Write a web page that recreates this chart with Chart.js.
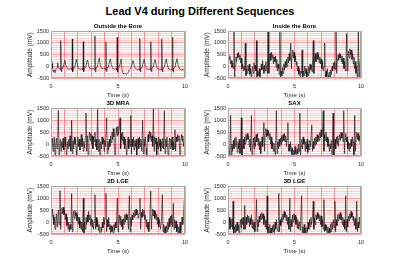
<!DOCTYPE html>
<html>
<head>
<meta charset="utf-8">
<script src="https://cdn.jsdelivr.net/npm/chart.js@4/dist/chart.umd.min.js"></script>
<style>
    body { margin: 0; width: 400px; height: 267px; background: #fff; position: relative; overflow: hidden; font-family: "Liberation Sans", Arial, sans-serif; }
    #title { position: absolute; left: 0; top: 5px; width: 400px; text-align: center; font-weight: bold; font-size: 11px; line-height: 13px; color: #000; }
    .sub { position: absolute; font-weight: bold; font-size: 6px; line-height: 7px; text-align: center; color: #000; z-index: 2; }
    canvas { position: absolute; z-index: 1; }
</style>
</head>
<body>
<div id="title">Lead V4 during Different Sequences</div>
<script>
// tick labels
const xTickLabels = [0, 5, 10];
const yTickLabels = [1500, 1000, 500, 0, -500];
const panelTitles = ["Outside the Bore", "Inside the Bore", "3D MRA", "SAX", "2D LGE", "3D LGE"];

// [time (s), amplitude (mV)]
const outsideBore = [[0,380],[0.04,300],[0.08,120],[0.12,-80],[0.18,-250],[0.25,-150],[0.3,-280],[0.38,-100],[0.45,-50],[0.5,150],[0.55,-50],[0.6,-120],[0.68,-100],[0.71,-150],
[0.74,1100],[0.77,-220],[0.81,-60],[0.9,-80],[0.98,150],[1.03,260],[1.1,60],[1.2,-80],[1.35,-120],[1.5,-100],[1.56,-150],
[1.59,1170],[1.62,-230],[1.66,-70],[1.75,-80],[1.83,120],[1.9,300],[1.97,80],[2.05,-100],[2.2,-130],[2.33,-100],[2.38,-150],
[2.41,1060],[2.44,-230],[2.48,-70],[2.58,-60],[2.66,150],[2.73,270],[2.8,60],[2.9,-90],[3.05,-120],[3.2,-100],[3.25,-150],
[3.28,1300],[3.31,-240],[3.35,-60],[3.45,-40],[3.53,200],[3.6,360],[3.67,100],[3.75,-80],[3.9,-100],[4.02,-80],[4.07,-150],
[4.1,1030],[4.13,-220],[4.17,-60],[4.27,-50],[4.35,160],[4.42,320],[4.5,80],[4.6,-90],[4.75,-120],[4.88,-100],[4.91,-160],
[4.94,1240],[4.97,-250],[5.01,-80],[5.1,-50],[5.18,180],[5.24,320],[5.3,-150],[5.38,-320],[5.5,-300],[5.62,-340],[5.75,-280],[5.85,-150],[5.95,-100],[6.05,100],[6.12,250],[6.2,50],[6.3,-100],[6.45,-130],[6.56,-120],[6.6,-160],
[6.63,1200],[6.66,-240],[6.7,-70],[6.8,-60],[6.88,150],[6.95,300],[7.02,80],[7.12,-100],[7.25,-130],[7.38,-110],[7.42,-160],
[7.45,1060],[7.48,-230],[7.52,-70],[7.62,-50],[7.7,160],[7.77,290],[7.85,70],[7.95,-100],[8.1,-140],[8.22,-120],[8.25,-170],
[8.28,1170],[8.31,-240],[8.35,-80],[8.45,-50],[8.53,170],[8.6,320],[8.68,60],[8.78,-110],[8.9,-140],[9.02,-120],[9.05,-170],
[9.08,1240],[9.11,-250],[9.15,-80],[9.25,-50],[9.33,200],[9.4,330],[9.48,60],[9.6,-120],[9.75,-150],[9.9,-140],[10,-160]];

const insideBore = [[0,480],[0.06,520],[0.1,300],[0.15,420],[0.2,100],[0.25,250],[0.3,-50],[0.35,150],[0.4,-100],[0.45,1600],[0.5,-500],[0.55,50],[0.6,400],[0.65,200],[0.7,550],[0.75,380],[0.8,600],[0.85,300],[0.9,480],[0.95,150],[1.0,350],[1.05,-100],[1.1,100],[1.15,-200],[1.2,0],[1.25,-150],[1.3,1000],[1.35,-400],[1.4,-100],[1.45,-300],[1.5,50],[1.55,-200],[1.6,100],[1.65,-350],[1.7,-100],[1.75,-450],[1.8,-200],[1.85,0],[1.9,-300],[1.95,150],[2.0,-100],[2.05,50],[2.1,-200],[2.14,1100],[2.18,-550],[2.25,-200],[2.3,-400],[2.35,-100],[2.4,-500],[2.45,-250],[2.5,100],[2.55,-150],[2.6,250],[2.65,0],[2.7,-300],[2.75,50],[2.8,-200],[2.85,200],[2.9,-100],[2.96,-300],[3.02,1600],[3.07,-300],[3.12,300],[3.17,550],[3.22,250],[3.27,600],[3.32,350],[3.37,500],[3.42,100],[3.47,400],[3.52,200],[3.57,450],[3.62,-50],[3.67,300],[3.72,-200],[3.77,100],[3.82,-100],[3.86,-350],[3.9,1600],[3.95,-500],[4.0,-200],[4.05,-400],[4.1,-50],[4.15,-300],[4.2,100],[4.25,-150],[4.3,200],[4.35,-50],[4.4,300],[4.45,0],[4.5,400],[4.55,150],[4.6,550],[4.65,250],[4.72,1000],[4.77,-100],[4.82,450],[4.87,700],[4.92,350],[4.97,600],[5.02,200],[5.07,450],[5.12,50],[5.17,200],[5.22,-200],[5.27,0],[5.32,-350],[5.37,-100],[5.42,-450],[5.47,-200],[5.52,-300],[5.57,700],[5.62,-500],[5.67,-200],[5.72,-400],[5.77,0],[5.82,-300],[5.87,-100],[5.92,-500],[5.97,-250],[6.02,-400],[6.07,0],[6.12,-300],[6.17,100],[6.22,-150],[6.27,50],[6.33,-250],[6.41,1100],[6.46,-300],[6.51,300],[6.56,550],[6.61,200],[6.66,450],[6.71,600],[6.76,300],[6.81,500],[6.86,150],[6.91,400],[6.96,100],[7.01,300],[7.06,-100],[7.11,200],[7.16,-200],[7.22,0],[7.27,1000],[7.32,-500],[7.37,-200],[7.42,-450],[7.47,-100],[7.52,-400],[7.57,-550],[7.62,-250],[7.67,-450],[7.72,-150],[7.77,-350],[7.82,0],[7.87,-200],[7.92,150],[7.97,-100],[8.02,200],[8.07,-150],[8.12,1600],[8.17,-300],[8.22,300],[8.27,500],[8.32,250],[8.37,550],[8.42,350],[8.47,500],[8.52,200],[8.57,450],[8.62,100],[8.67,350],[8.72,-100],[8.77,200],[8.82,-200],[8.87,50],[8.92,1400],[8.97,-200],[9.02,400],[9.07,650],[9.12,350],[9.17,750],[9.22,500],[9.27,700],[9.32,300],[9.37,550],[9.42,100],[9.47,400],[9.52,-100],[9.57,200],[9.62,-300],[9.67,0],[9.72,-500],[9.76,-200],[9.8,1600],[9.85,-500],[9.9,100],[9.95,300],[10,400]];

const mra3d = [[0,200],[0.05,-100],[0.1,250],[0.15,-300],[0.2,100],[0.25,300],[0.3,-600],[0.35,0],[0.4,250],[0.45,-200],[0.5,150],[0.55,1400],[0.6,-600],[0.65,-100],[0.7,200],[0.75,-300],[0.8,100],[0.85,-150],[0.9,250],[0.95,-250],[1.0,50],[1.05,300],[1.1,-100],[1.17,-600],[1.22,100],[1.27,-200],[1.32,200],[1.37,-100],[1.42,350],[1.48,-300],[1.54,1000],[1.59,-400],[1.64,150],[1.69,-200],[1.74,300],[1.79,0],[1.84,200],[1.91,-600],[1.96,0],[2.01,300],[2.06,-100],[2.11,200],[2.16,-250],[2.21,100],[2.26,400],[2.31,-100],[2.36,250],[2.41,-300],[2.46,100],[2.51,-150],[2.56,300],[2.61,1300],[2.66,-300],[2.71,350],[2.78,-600],[2.83,200],[2.88,500],[2.93,150],[2.98,450],[3.03,0],[3.08,350],[3.13,-200],[3.18,300],[3.23,100],[3.28,500],[3.33,-100],[3.38,200],[3.43,-250],[3.48,1450],[3.53,-300],[3.58,200],[3.66,-600],[3.71,100],[3.76,-200],[3.81,300],[3.86,0],[3.91,250],[3.96,-300],[4.01,150],[4.06,-100],[4.15,1100],[4.2,-400],[4.25,100],[4.3,-250],[4.35,200],[4.4,-100],[4.45,350],[4.5,50],[4.55,500],[4.6,200],[4.65,650],[4.7,300],[4.78,-600],[4.83,300],[4.88,700],[4.93,350],[4.98,750],[5.03,400],[5.08,600],[5.15,1100],[5.2,-200],[5.25,450],[5.3,150],[5.35,500],[5.4,0],[5.45,300],[5.5,-200],[5.57,200],[5.65,-600],[5.7,0],[5.75,300],[5.8,-200],[5.85,200],[5.9,-100],[5.95,1200],[6.0,-400],[6.05,200],[6.1,-100],[6.15,300],[6.2,-250],[6.25,150],[6.3,-100],[6.35,200],[6.4,-600],[6.45,0],[6.5,250],[6.55,-200],[6.6,300],[6.65,-100],[6.7,200],[6.77,-300],[6.84,1000],[6.89,-400],[6.94,200],[6.99,-100],[7.04,300],[7.09,-200],[7.14,-600],[7.19,100],[7.24,400],[7.29,100],[7.34,550],[7.39,250],[7.44,500],[7.49,100],[7.54,350],[7.59,-100],[7.64,1500],[7.69,-300],[7.74,300],[7.79,0],[7.84,250],[7.89,-600],[7.94,100],[7.99,-200],[8.04,300],[8.09,-100],[8.14,200],[8.19,-300],[8.24,100],[8.29,-150],[8.34,250],[8.4,-200],[8.46,1400],[8.51,-400],[8.56,200],[8.61,-100],[8.66,300],[8.75,-600],[8.8,0],[8.85,250],[8.9,-200],[8.95,200],[9.0,-100],[9.05,300],[9.1,-250],[9.15,100],[9.2,-200],[9.25,600],[9.3,-300],[9.35,300],[9.4,100],[9.45,400],[9.5,150],[9.55,350],[9.63,-600],[9.68,100],[9.73,400],[9.78,150],[9.83,350],[9.88,-100],[9.93,200],[10,100]];

const sax = [[0,-400],[0.05,-100],[0.1,-450],[0.15,100],[0.2,1200],[0.25,-500],[0.3,0],[0.35,-300],[0.4,150],[0.45,-200],[0.5,250],[0.55,-100],[0.6,300],[0.65,0],[0.7,-350],[0.75,100],[0.8,-200],[0.85,200],[0.9,-400],[0.95,-100],[1.0,1100],[1.05,-500],[1.1,-100],[1.15,200],[1.2,-200],[1.25,300],[1.3,0],[1.35,400],[1.4,150],[1.45,450],[1.5,200],[1.55,350],[1.6,-100],[1.65,200],[1.7,-300],[1.76,1200],[1.81,-500],[1.86,-100],[1.91,250],[1.96,-200],[2.01,300],[2.06,-100],[2.11,400],[2.16,100],[2.21,450],[2.26,-50],[2.31,250],[2.36,-250],[2.41,100],[2.46,-400],[2.51,0],[2.56,300],[2.61,-100],[2.7,900],[2.75,-300],[2.8,400],[2.85,650],[2.9,300],[2.95,600],[3.0,350],[3.05,550],[3.1,200],[3.15,450],[3.2,0],[3.25,300],[3.3,-200],[3.35,100],[3.4,-300],[3.45,50],[3.5,-250],[3.57,-450],[3.64,1400],[3.69,-400],[3.74,100],[3.79,-200],[3.84,200],[3.89,-100],[3.94,250],[3.99,0],[4.04,350],[4.09,100],[4.14,400],[4.19,150],[4.24,450],[4.29,100],[4.34,350],[4.39,-100],[4.44,200],[4.5,900],[4.55,-300],[4.6,0],[4.65,-300],[4.7,100],[4.75,-200],[4.8,-450],[4.85,-150],[4.9,-500],[4.95,-250],[5.0,-450],[5.05,-100],[5.1,-400],[5.15,-550],[5.2,-200],[5.25,-400],[5.3,0],[5.35,-300],[5.4,1300],[5.45,-500],[5.5,-100],[5.55,200],[5.6,-200],[5.65,300],[5.7,0],[5.75,200],[5.8,-300],[5.85,100],[5.9,-200],[5.95,200],[6.0,-350],[6.05,0],[6.1,-250],[6.15,150],[6.2,-100],[6.3,800],[6.35,-300],[6.4,100],[6.45,-200],[6.5,250],[6.55,-50],[6.6,300],[6.65,0],[6.7,400],[6.75,100],[6.8,350],[6.85,150],[6.9,500],[6.95,250],[7.0,600],[7.05,300],[7.1,500],[7.16,1400],[7.21,-300],[7.26,400],[7.31,150],[7.36,500],[7.41,100],[7.46,300],[7.51,-100],[7.56,200],[7.61,-300],[7.66,0],[7.71,-200],[7.76,150],[7.83,-450],[7.9,1300],[7.95,-500],[8.0,-100],[8.05,200],[8.1,-200],[8.15,300],[8.2,0],[8.25,350],[8.3,-100],[8.35,250],[8.4,400],[8.45,150],[8.5,500],[8.55,250],[8.6,450],[8.65,100],[8.7,1400],[8.75,-400],[8.8,200],[8.85,450],[8.9,100],[8.95,300],[9.0,-200],[9.05,100],[9.1,-300],[9.15,50],[9.2,-200],[9.25,200],[9.3,-100],[9.35,300],[9.4,100],[9.47,-500],[9.53,1200],[9.58,-300],[9.63,300],[9.68,500],[9.73,200],[9.78,450],[9.83,150],[9.88,350],[9.93,0],[10,100]];

const lge2d = [[0,450],[0.05,200],[0.1,550],[0.15,300],[0.2,-100],[0.25,200],[0.3,-300],[0.35,100],[0.4,350],[0.45,-200],[0.5,200],[0.55,500],[0.6,-100],[0.67,1320],[0.72,-300],[0.77,400],[0.82,600],[0.87,350],[0.92,620],[0.97,300],[1.02,500],[1.07,100],[1.12,350],[1.17,-150],[1.22,200],[1.27,-300],[1.32,0],[1.37,-400],[1.42,-100],[1.48,-300],[1.54,1200],[1.59,-400],[1.64,200],[1.69,450],[1.74,150],[1.79,500],[1.84,250],[1.89,400],[1.94,50],[1.99,300],[2.04,-100],[2.09,200],[2.14,-250],[2.19,50],[2.24,-300],[2.29,0],[2.35,-400],[2.41,1000],[2.46,-500],[2.51,0],[2.56,-300],[2.61,200],[2.66,-100],[2.71,300],[2.76,0],[2.81,450],[2.86,100],[2.91,300],[2.96,-150],[3.01,150],[3.06,-200],[3.11,100],[3.16,-300],[3.22,0],[3.28,1150],[3.33,-300],[3.38,200],[3.43,-200],[3.48,100],[3.53,-350],[3.58,-100],[3.63,-450],[3.68,-550],[3.73,-200],[3.78,-400],[3.83,0],[3.88,-250],[3.93,200],[3.98,-100],[4.04,150],[4.1,1200],[4.15,-400],[4.2,100],[4.25,-200],[4.3,200],[4.35,-300],[4.4,-100],[4.45,-450],[4.5,-150],[4.55,-400],[4.6,-200],[4.65,-500],[4.7,-100],[4.75,-350],[4.8,0],[4.85,-250],[4.9,100],[4.95,1000],[5.0,-400],[5.05,0],[5.1,300],[5.15,-100],[5.2,250],[5.25,-200],[5.3,100],[5.35,-300],[5.4,150],[5.45,-100],[5.5,300],[5.55,0],[5.6,350],[5.65,100],[5.7,300],[5.78,-300],[5.85,1100],[5.9,-400],[5.95,200],[6.0,-150],[6.05,300],[6.1,100],[6.15,400],[6.2,200],[6.25,500],[6.3,250],[6.35,550],[6.4,300],[6.45,500],[6.5,150],[6.57,350],[6.64,1000],[6.69,-300],[6.74,400],[6.79,200],[6.84,550],[6.89,250],[6.94,500],[6.99,100],[7.04,300],[7.09,-200],[7.14,100],[7.19,-300],[7.24,0],[7.3,-400],[7.37,100],[7.44,1300],[7.49,-300],[7.54,300],[7.59,550],[7.64,250],[7.69,500],[7.74,150],[7.79,450],[7.84,100],[7.89,350],[7.94,-100],[7.99,200],[8.04,-200],[8.1,100],[8.16,-300],[8.24,0],[8.31,1150],[8.36,-400],[8.41,-100],[8.46,-500],[8.51,-200],[8.56,-550],[8.61,-150],[8.66,-400],[8.71,0],[8.76,-300],[8.81,150],[8.86,-200],[8.91,250],[8.96,-100],[9.01,300],[9.07,-200],[9.13,800],[9.18,-300],[9.23,100],[9.28,-250],[9.33,50],[9.38,-400],[9.43,-100],[9.48,-550],[9.53,-200],[9.58,-450],[9.63,0],[9.68,-500],[9.73,-150],[9.78,200],[9.83,-100],[9.89,300],[9.95,900],[10,200]];

const lge3d = [[0,300],[0.05,-100],[0.1,200],[0.15,-300],[0.2,100],[0.25,-200],[0.3,150],[0.34,-300],[0.38,880],[0.43,-500],[0.48,-200],[0.53,-450],[0.58,-100],[0.63,-400],[0.68,0],[0.73,-350],[0.78,-100],[0.83,-500],[0.88,-200],[0.93,100],[0.98,-250],[1.03,150],[1.08,-100],[1.13,200],[1.2,-300],[1.26,700],[1.31,-300],[1.36,200],[1.41,-100],[1.46,300],[1.51,0],[1.56,250],[1.61,-200],[1.66,150],[1.71,-100],[1.76,300],[1.81,-250],[1.86,100],[1.91,-300],[1.96,0],[2.02,-400],[2.08,-100],[2.14,950],[2.19,-400],[2.24,100],[2.29,-200],[2.34,250],[2.39,0],[2.44,350],[2.49,100],[2.54,400],[2.59,150],[2.64,350],[2.69,-100],[2.74,250],[2.79,-200],[2.84,100],[2.89,-300],[2.94,1100],[2.99,-500],[3.04,-200],[3.09,-450],[3.14,-100],[3.19,-500],[3.24,-250],[3.29,-550],[3.34,-150],[3.39,-400],[3.44,-100],[3.49,-450],[3.54,0],[3.59,-300],[3.64,100],[3.69,-200],[3.76,-400],[3.82,1200],[3.87,-400],[3.92,100],[3.97,-150],[4.02,200],[4.07,0],[4.12,350],[4.17,100],[4.22,450],[4.27,200],[4.32,400],[4.37,50],[4.42,300],[4.47,-100],[4.52,200],[4.58,-300],[4.65,1000],[4.7,-400],[4.75,100],[4.8,-200],[4.85,300],[4.9,0],[4.95,350],[5.0,100],[5.05,300],[5.1,-100],[5.15,200],[5.2,-250],[5.25,100],[5.3,-300],[5.36,0],[5.44,-350],[5.53,1100],[5.58,-500],[5.63,-200],[5.68,-450],[5.73,-100],[5.78,-500],[5.83,-250],[5.88,-550],[5.93,-200],[5.98,-400],[6.03,0],[6.08,-300],[6.13,100],[6.18,-200],[6.23,200],[6.28,-100],[6.34,100],[6.41,880],[6.46,-300],[6.51,150],[6.56,-100],[6.61,300],[6.66,100],[6.71,400],[6.76,150],[6.81,350],[6.86,50],[6.91,300],[6.96,-100],[7.01,250],[7.06,-200],[7.11,100],[7.16,-300],[7.21,950],[7.26,-400],[7.31,-100],[7.36,-350],[7.41,-150],[7.46,-500],[7.51,-200],[7.56,-550],[7.61,-250],[7.66,-450],[7.71,-100],[7.76,-400],[7.81,0],[7.86,-300],[7.92,100],[7.98,-250],[8.04,880],[8.09,-400],[8.14,100],[8.19,-150],[8.24,300],[8.29,50],[8.34,350],[8.39,150],[8.44,400],[8.49,100],[8.54,300],[8.59,-100],[8.64,200],[8.69,-200],[8.74,100],[8.79,-300],[8.85,1100],[8.9,-400],[8.95,100],[9.0,-200],[9.05,250],[9.1,50],[9.15,350],[9.2,150],[9.25,450],[9.3,200],[9.35,400],[9.4,50],[9.45,250],[9.5,-150],[9.55,150],[9.62,-300],[9.68,880],[9.73,-400],[9.78,0],[9.83,-250],[9.88,200],[9.93,-100],[10,300]];

const series = [outsideBore, insideBore, mra3d, sax, lge2d, lge3d];

// plot-area boxes (left, top, width, height) and title centre y
const boxes = [
    { l: 51, t: 30, w: 134, h: 48, ty: 26 },
    { l: 228, t: 30, w: 133, h: 48, ty: 26 },
    { l: 51, t: 107, w: 134, h: 49, ty: 103 },
    { l: 228, t: 107, w: 133, h: 49, ty: 103 },
    { l: 51, t: 185, w: 134, h: 49, ty: 181.5 },
    { l: 228, t: 185, w: 133, h: 49, ty: 181.5 },
];

const FONT = "'Liberation Sans', Arial, sans-serif";
const AXIS_W = 27, AXIS_H = 22, PAD_T = 4, PAD_R = 10;

const frame = {
    id: "frame",
    afterDatasetsDraw(chart) {
        const { ctx, chartArea: a } = chart;
        ctx.save();
        ctx.strokeStyle = "#a6a6a6";
        ctx.lineWidth = 1;
        ctx.strokeRect(Math.round(a.left) + 0.5, Math.round(a.top) + 0.5, Math.round(a.width) - 1, Math.round(a.height) - 1);
        ctx.restore();
    },
};

const near = (v, step) => Math.abs(v / step - Math.round(v / step)) < 1e-6;

series.forEach((pts, i) => {
    const b = boxes[i];

    const cv = document.createElement("canvas");
    cv.width = b.w + AXIS_W + PAD_R;
    cv.height = b.h + PAD_T + AXIS_H;
    cv.style.left = (b.l - AXIS_W) + "px";
    cv.style.top = (b.t - PAD_T) + "px";
    document.body.appendChild(cv);

    const title = document.createElement("div");
    title.className = "sub";
    title.textContent = panelTitles[i];
    title.style.left = b.l + "px";
    title.style.width = b.w + "px";
    title.style.top = (b.ty - 3.5) + "px";
    document.body.appendChild(title);

    new Chart(cv, {
        type: "line",

        data: {
            datasets: [
                {
                    data: pts.map(([x, y]) => ({ x, y })),
                    borderColor: "#111",
                    borderWidth: 0.65,
                    pointRadius: 0,
                    tension: 0,
                },
            ],
        },

        options: {
            responsive: false,
            animation: false,
            devicePixelRatio: 1,
            layout: { padding: { top: PAD_T, right: PAD_R, left: 0, bottom: 0 } },
            plugins: { legend: { display: false }, tooltip: { enabled: false } },

            scales: {
                x: {
                    type: "linear",
                    min: 0,
                    max: 10,
                    afterFit: (s) => { s.height = AXIS_H; },
                    border: { display: false },
                    grid: {
                        drawTicks: false,
                        lineWidth: 1,
                        color: (c) => near(c.tick.value, 1) ? "rgba(240,60,60,0.55)" : "rgba(255,120,120,0.12)",
                    },
                    ticks: {
                        stepSize: 0.2,
                        autoSkip: false,
                        maxRotation: 0,
                        padding: 5,
                        color: "#262626",
                        font: { family: FONT, size: 5.5 },
                        callback: (v) => xTickLabels.some((t) => Math.abs(t - v) < 1e-6) ? Math.round(v) : "",
                    },
                    title: {
                        display: true,
                        text: "Time (s)",
                        color: "#262626",
                        padding: { top: 0, bottom: 1 },
                        font: { family: FONT, size: 6 },
                    },
                },

                y: {
                    min: -500,
                    max: 1500,
                    afterFit: (s) => { s.width = AXIS_W; },
                    border: { display: false },
                    grid: {
                        drawTicks: false,
                        lineWidth: 1,
                        color: (c) => near(c.tick.value, 500) ? "rgba(240,60,60,0.45)" : "rgba(255,110,110,0.3)",
                    },
                    ticks: {
                        stepSize: 100,
                        autoSkip: false,
                        padding: 2,
                        color: "#262626",
                        font: { family: FONT, size: 5.5 },
                        callback: (v) => yTickLabels.includes(v) ? v : "",
                    },
                    title: {
                        display: true,
                        text: "Amplitude (mV)",
                        color: "#262626",
                        padding: { top: 2.5, bottom: 0 },
                        font: { family: FONT, size: 6.5 },
                    },
                },
            },
        },

        plugins: [frame],
    });
});
</script>
</body>
</html>
